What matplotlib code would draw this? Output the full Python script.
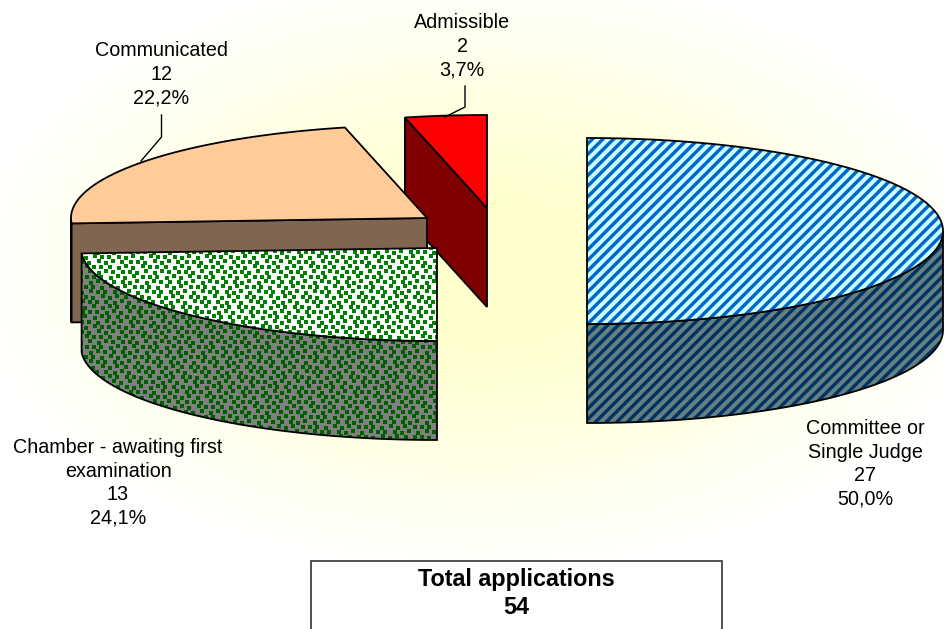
import numpy as np
import matplotlib
matplotlib.use("Agg")
import matplotlib.pyplot as plt
from matplotlib.patches import Polygon, Rectangle

# ---- data ----
categories = ["Committee or\nSingle Judge", "Chamber - awaiting first\nexamination", "Communicated", "Admissible"]
counts = [27, 13, 12, 2]
percent_labels = ["50,0%", "24,1%", "22,2%", "3,7%"]
total_label = "Total applications\n54"

# ---- layout (pixels) ----
W, H = 944, 629
RX, RY, DEPTH = 356, 93, 99
centres = [(587, 231), (437, 248), (427, 218), (487, 208)]
label_pos = [(865, 464), (118, 483), (161, 74), (462, 46)]
leaders = [None, None, [(161.5, 115), (161.5, 137), (141, 161)], [(465, 86), (465, 107), (445, 117)]]

fig = plt.figure(figsize=(W / 100, H / 100), dpi=100)
ax = fig.add_axes([0, 0, 1, 1])
ax.set_xlim(0, W)
ax.set_ylim(H, 0)
ax.axis("off")
plt.rcParams["font.family"] = ["Liberation Sans", "DejaVu Sans"]

yy, xx = np.mgrid[0:H, 0:W] + 0.5
EXT = (0, W, H, 0)


def hexrgb(c):
    return np.array(matplotlib.colors.to_rgb(c))


# background
r = np.sqrt(((xx - 480) / 540) ** 2 + ((yy - 270) / 320) ** 2)
t = np.clip((r - 0.2) / 0.75, 0, 1)[..., None]
bg = hexrgb("#FFFFCC") * (1 - t) + hexrgb("#FFFFFF") * t
ax.imshow(bg, extent=EXT, interpolation="nearest", aspect="auto", zorder=0)
ax.set_xlim(0, W)
ax.set_ylim(H, 0)


def stripes(base, ink):
    s = np.cos(2 * np.pi * (xx + yy) / 10.6)
    m = np.clip((s - 0.12) / 0.8 + 0.5, 0, 1)[..., None]
    return hexrgb(base) * (1 - m) + hexrgb(ink) * m


def dots(base, ink):
    m = np.zeros((H, W))
    nudge = [0, 1, 0, -1, 1, 0, -1]
    for j in range(-2, 130):
        for i in range(-2, 122):
            x = i * 8 + (j % 2) * 4 + nudge[(i + 2 * j) % 7]
            y = j * 5 + nudge[(2 * i + j) % 7]
            if -4 <= x < W and -4 <= y < H:
                m[max(y, 0):max(y + 4, 0), max(x, 0):max(x + 4, 0)] = 1
    m = m[..., None]
    return hexrgb(base) * (1 - m) + hexrgb(ink) * m


def rim(c, a, b, n=120, dy=0):
    th = np.radians(np.linspace(a, b, n))
    return np.c_[c[0] + RX * np.sin(th), c[1] + dy - RY * np.cos(th)]


def face(pts, z, fill=None, tex=None):
    p = Polygon(pts, closed=True, fc=fill if fill else "none", ec="none", zorder=z)
    ax.add_patch(p)
    if tex is not None:
        im = ax.imshow(tex, extent=EXT, interpolation="bilinear", aspect="auto", zorder=z + 0.1)
        im.set_clip_path(p)
    ax.add_patch(Polygon(pts, closed=True, fc="none", ec="black", lw=1.3, joinstyle="miter", zorder=z + 0.2))


# slice angles, clockwise from 12 o'clock
edges = np.concatenate([[0], np.cumsum(counts)]) / np.sum(counts) * 360.0

top_tex = [stripes("#CCFFFF", "#0066CC"), dots("#FFFFFF", "#008000"), None, None]
side_tex = [stripes("#668080", "#003366"), dots("#808080", "#006000"), None, None]
top_col = [None, None, "#FFCC99", "#FF0000"]
side_col = [None, None, "#806650", "#800000"]

# back to front: Admissible, Communicated, Chamber, Committee
for z, i in zip([10, 20, 30, 40], [3, 2, 1, 0]):
    c = centres[i]
    a, b = edges[i], edges[i + 1]
    apex = np.array([c])
    # outer wall, only where it faces the viewer
    lo, hi = max(a, 90), min(b, 270)
    if hi > lo:
        up = rim(c, lo, hi)
        down = rim(c, lo, hi, dy=DEPTH)
        face(np.r_[up, down[::-1]], z, side_col[i], side_tex[i])
    # radial wall facing the viewer (left-hand edges of the slices on the far side)
    if i in (2, 3):
        p0 = rim(c, a, a, n=1)
        wall = np.r_[p0, apex, apex + [0, DEPTH], p0 + [0, DEPTH]]
        face(wall, z + 1, side_col[i], side_tex[i])
    # top
    face(np.r_[apex, rim(c, a, b)], z + 2, top_col[i], top_tex[i])

# labels
for i in range(4):
    txt = f"{categories[i]}\n{counts[i]}\n{percent_labels[i]}"
    ax.text(label_pos[i][0], label_pos[i][1], txt, ha="center", va="center",
            fontsize=14.2, linespacing=1.3, color="black", zorder=60)
    if leaders[i]:
        ax.plot(*zip(*leaders[i]), color="black", lw=1, zorder=60)

# total box
ax.add_patch(Rectangle((311, 561), 411, 90, fc="white", ec="#333333", lw=1.2, zorder=50, clip_on=True))
ax.text(516.5, 593.5, total_label, ha="center", va="center", fontsize=16.8, fontweight="bold",
        linespacing=1.24, zorder=60)

ax.set_xlim(0, W)
ax.set_ylim(H, 0)
fig.savefig("out.png", dpi=100)
